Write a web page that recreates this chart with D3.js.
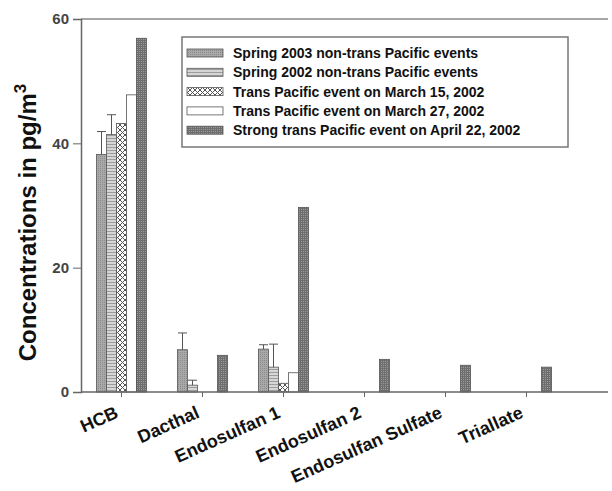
<!DOCTYPE html>
<html><head><meta charset="utf-8">
<script src="https://cdn.jsdelivr.net/npm/d3@7"></script>
<style>body{margin:0;background:#fff}svg{display:block}</style>
</head><body>
<script>
const categories = ["HCB","Dacthal","Endosulfan 1","Endosulfan 2","Endosulfan Sulfate","Triallate"];
const seriesNames = [
  "Spring 2003 non-trans Pacific events",
  "Spring 2002 non-trans Pacific events",
  "Trans Pacific event on March 15, 2002",
  "Trans Pacific event on March 27, 2002",
  "Strong trans Pacific event on April 22, 2002"
];
const spring2003 = [38.2, 6.8, 6.9, 0, 0, 0];
const spring2002 = [41.4, 1.1, 4.0, 0, 0, 0];
const march15 = [43.2, 0, 1.4, 0, 0, 0];
const march27 = [47.8, 0, 3.1, 0, 0, 0];
const april22 = [56.9, 5.9, 29.7, 5.25, 4.3, 4.0];
const spring2003Err = [3.7, 2.7, 0.7, 0, 0, 0];
const spring2002Err = [3.2, 0.8, 3.7, 0, 0, 0];
const march15Err = [0, 0, 0, 0, 0, 0];
const march27Err = [0, 0, 0, 0, 0, 0];
const april22Err = [0, 0, 0, 0, 0, 0];
const yTicks = [0, 20, 40, 60];

const seriesValues = [spring2003, spring2002, march15, march27, april22];
const seriesErrs = [spring2003Err, spring2002Err, march15Err, march27Err, april22Err];

const W = 612, H = 491;
const svg = d3.select("body").append("svg").attr("width", W).attr("height", H);
const defs = svg.append("defs");

// patterns
const p1 = defs.append("pattern").attr("id","p1").attr("patternUnits","userSpaceOnUse").attr("width",2).attr("height",2);
p1.append("rect").attr("width",2).attr("height",2).attr("fill","#a9a9a9");
p1.append("rect").attr("width",1).attr("height",1).attr("fill","#8a8a8a");
const p2 = defs.append("pattern").attr("id","p2").attr("patternUnits","userSpaceOnUse").attr("width",3).attr("height",3);
p2.append("rect").attr("width",3).attr("height",3).attr("fill","#d6d6d6");
p2.append("rect").attr("width",3).attr("height",1).attr("fill","#9c9c9c");
const p3 = defs.append("pattern").attr("id","p3").attr("patternUnits","userSpaceOnUse").attr("width",5).attr("height",5);
p3.append("rect").attr("width",5).attr("height",5).attr("fill","#fff");
p3.append("path").attr("d","M0,0L5,5M5,0L0,5").attr("stroke","#555").attr("stroke-width",1);
const p5 = defs.append("pattern").attr("id","p5").attr("patternUnits","userSpaceOnUse").attr("width",2).attr("height",2);
p5.append("rect").attr("width",2).attr("height",2).attr("fill","#9a9a9a");
p5.append("rect").attr("width",1).attr("height",2).attr("fill","#6e6e6e");
p5.append("rect").attr("width",2).attr("height",1).attr("fill","#6e6e6e");
const fills = ["url(#p1)","url(#p2)","url(#p3)","#fff","url(#p5)"];

const mLeft = 81, mTop = 19, mBottom = 392, axisRight = 608;
const x0 = d3.scaleBand().domain(categories).range([mLeft, mLeft + 81 * categories.length]).padding(0);
const groupW = 50;
const x1 = d3.scaleBand().domain(d3.range(seriesNames.length))
  .range([x0.bandwidth()/2 - groupW/2, x0.bandwidth()/2 + groupW/2]).padding(0);
const y = d3.scaleLinear().domain([0, 60]).range([mBottom, mTop]);

// top frame
svg.append("line").attr("x1", mLeft).attr("x2", axisRight).attr("y1", y(60)).attr("y2", y(60))
  .attr("stroke","#888").attr("stroke-width",1.5);

// bars
const g = svg.append("g");
seriesValues.forEach((vals, si) => {
  g.selectAll(null).data(vals.map((v,i)=>({v, c: categories[i]})).filter(d => d.v > 0))
    .join("rect")
    .attr("x", d => x0(d.c) + x1(si))
    .attr("y", d => y(d.v))
    .attr("width", x1.bandwidth())
    .attr("height", d => y(0) - y(d.v))
    .attr("fill", fills[si])
    .attr("stroke", "#555").attr("stroke-width", 0.8);
});
// error bars
seriesErrs.forEach((errs, si) => {
  errs.forEach((e, i) => {
    if (e <= 0) return;
    const v = seriesValues[si][i];
    const cx = x0(categories[i]) + x1(si) + x1.bandwidth()/2;
    svg.append("line").attr("x1", cx).attr("x2", cx).attr("y1", y(v)).attr("y2", y(v + e))
      .attr("stroke","#555").attr("stroke-width",1);
    svg.append("line").attr("x1", cx - 4.5).attr("x2", cx + 4.5).attr("y1", y(v + e)).attr("y2", y(v + e))
      .attr("stroke","#555").attr("stroke-width",1);
  });
});

// y axis
const yAxis = svg.append("g").attr("transform", `translate(${mLeft},0)`)
  .call(d3.axisLeft(y).tickValues(yTicks).tickSize(8).tickPadding(4));
yAxis.select(".domain").attr("stroke","#666").attr("stroke-width",1.5);
yAxis.selectAll(".tick line").attr("stroke","#666");
yAxis.selectAll("text").attr("font-family","Liberation Sans, Arial, sans-serif").attr("font-size",15)
  .attr("font-weight","bold").attr("fill","#444");

// x axis
const xAxis = svg.append("g").attr("transform", `translate(0,${mBottom})`)
  .call(d3.axisBottom(x0).tickSize(5).tickFormat(""));
xAxis.select(".domain").remove();
xAxis.selectAll(".tick line").attr("stroke","#666");
svg.append("line").attr("x1", mLeft).attr("x2", axisRight).attr("y1", mBottom).attr("y2", mBottom)
  .attr("stroke","#666").attr("stroke-width",1.5);
// x labels
svg.append("g").selectAll("text").data(categories).join("text")
  .attr("transform", d => `translate(${x0(d) + x0.bandwidth()/2 - 2},${mBottom + 25}) rotate(-24)`)
  .attr("text-anchor","end")
  .attr("font-family","Liberation Sans, Arial, sans-serif")
  .attr("font-weight","bold").attr("font-size",18).attr("fill","#111")
  .text(d => d);

// y title
const yt = svg.append("text")
  .attr("transform", `translate(36,${(mTop + mBottom)/2 + 17}) rotate(-90)`)
  .attr("text-anchor","middle")
  .attr("font-family","Liberation Sans, Arial, sans-serif")
  .attr("font-weight","bold").attr("font-size",24).attr("fill","#111");
yt.append("tspan").text("Concentrations in pg/m");
yt.append("tspan").attr("dy",-10).attr("font-size",17).text("3");

// legend
const lg = svg.append("g");
lg.append("rect").attr("x",182).attr("y",37).attr("width",386).attr("height",110)
  .attr("fill","#fff").attr("stroke","#777").attr("stroke-width",1.5);
seriesNames.forEach((name, i) => {
  const cy = 53 + i * 19.3;
  lg.append("rect").attr("x",187).attr("y",cy - 4).attr("width",36).attr("height",8)
    .attr("fill", fills[i]).attr("stroke","#555").attr("stroke-width",0.8);
  lg.append("text").attr("x",233).attr("y",cy + 5)
    .attr("font-family","Liberation Sans, Arial, sans-serif")
    .attr("font-weight","bold").attr("font-size",14).attr("fill","#111")
    .text(name);
});
</script>
</body></html>
